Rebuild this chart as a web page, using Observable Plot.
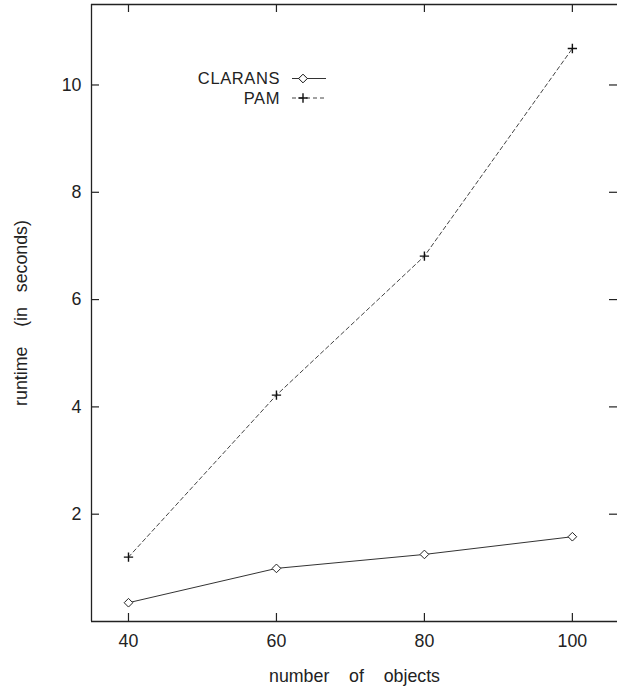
<!DOCTYPE html>
<html>
<head>
<meta charset="utf-8">
<script src="https://cdn.jsdelivr.net/npm/d3@7"></script>
<script src="https://cdn.jsdelivr.net/npm/@observablehq/plot@0.6"></script>
<style>
  html, body { margin: 0; padding: 0; background: #fff; overflow: hidden; }
  #wrap { position: relative; width: 617px; height: 689px; overflow: hidden; }
  #wrap text { white-space: pre; }
  #legend { position: absolute; left: 0; top: 0; pointer-events: none; }
</style>
</head>
<body>
<div id="wrap"></div>
<script>
// ---- data ----
const objects = [40, 60, 80, 100];
const claransRuntime = [0.35, 0.99, 1.25, 1.58];
const pamRuntime = [1.2, 4.22, 6.81, 10.68];
const seriesNames = ["CLARANS", "PAM"];
const xTicks = [40, 60, 80, 100];
const yTicks = [2, 4, 6, 8, 10];
const xDomain = [35, 106.1];
const yDomain = [0, 11.5];
const xLabel = "number    of    objects";
const yLabel = "runtime    (in   seconds)";

const clarans = objects.map((x, i) => ({x, y: claransRuntime[i], s: seriesNames[0]}));
const pam = objects.map((x, i) => ({x, y: pamRuntime[i], s: seriesNames[1]}));

const W = 617, H = 689, ML = 91, MR = 0, MT = 4, MB = 68;
const frameW = W - ML - MR, frameH = H - MT - MB;
const tickLen = 8;
const ink = "#222";
const font = "'Liberation Sans', Arial, Helvetica, sans-serif";

const chart = Plot.plot({
  width: W,
  height: H,
  marginLeft: ML,
  marginRight: MR,
  marginTop: MT,
  marginBottom: MB,
  style: {fontFamily: font, fontSize: "17.8px", color: ink, background: "#fff", overflow: "visible"},
  x: {domain: xDomain, ticks: xTicks},
  y: {domain: yDomain, ticks: yTicks},
  marks: [
    // open frame: left, bottom, top (right side lies beyond the picture)
    Plot.ruleX([xDomain[0]], {stroke: ink, strokeWidth: 1.3}),
    Plot.ruleY(yDomain, {stroke: ink, strokeWidth: 1.3}),
    // inward ticks
    Plot.ruleX(xTicks, {x: d => d, insetTop: frameH - tickLen, stroke: ink, strokeWidth: 1.2}),
    Plot.ruleX(xTicks, {x: d => d, insetBottom: frameH - tickLen, stroke: ink, strokeWidth: 1.2}),
    Plot.ruleY(yTicks, {y: d => d, insetRight: frameW - tickLen, stroke: ink, strokeWidth: 1.2}),
    Plot.ruleY(yTicks, {y: d => d, insetLeft: frameW - tickLen, stroke: ink, strokeWidth: 1.2}),
    Plot.axisX({ticks: xTicks, tickSize: 0, tickPadding: 13, label: null, fill: ink}),
    Plot.axisY({ticks: yTicks, tickSize: 0, tickPadding: 10, label: null, fill: ink}),
    // axis titles
    Plot.text([xLabel], {frameAnchor: "bottom", dy: 55, textAnchor: "middle", lineAnchor: "middle", fill: ink}),
    Plot.text([yLabel], {frameAnchor: "left", dx: -70, rotate: -90, textAnchor: "middle", lineAnchor: "middle", fill: ink}),
    // series
    Plot.line(clarans, {x: "x", y: "y", stroke: "#333", strokeWidth: 1}),
    Plot.dot(clarans, {x: "x", y: "y", symbol: "diamond2", r: 3.9, stroke: "#222", fill: "#fff", strokeWidth: 1}),
    Plot.line(pam, {x: "x", y: "y", stroke: "#444", strokeWidth: 1, strokeDasharray: "4,3"}),
    Plot.dot(pam, {x: "x", y: "y", symbol: "plus", r: 3.1, stroke: "#111", strokeWidth: 1.4})
  ]
});

const wrap = document.getElementById("wrap");
wrap.appendChild(chart);

// ---- legend (overlay) ----
const legend = d3.select(wrap).append("svg")
  .attr("id", "legend")
  .attr("width", 617).attr("height", 689)
  .style("font-family", font).style("font-size", "16.5px");

const rows = [
  {name: seriesNames[0], y: 78.5, dash: null, symbol: d3.symbolDiamond2, size: 3.9, stroke: "#333"},
  {name: seriesNames[1], y: 98, dash: "4,3", symbol: d3.symbolPlus, size: 3.1, stroke: "#444"}
];
rows.forEach(r => {
  legend.append("text")
    .attr("x", 280).attr("y", r.y).attr("dy", "0.36em")
    .attr("text-anchor", "end").attr("fill", ink)
    .style("letter-spacing", "0.6px").text(r.name);
  legend.append("line")
    .attr("x1", 292).attr("x2", 326).attr("y1", r.y).attr("y2", r.y)
    .attr("stroke", r.stroke).attr("stroke-width", 1)
    .attr("stroke-dasharray", r.dash);
  legend.append("path")
    .attr("transform", `translate(303,${r.y})`)
    .attr("d", d3.symbol(r.symbol, Math.PI * r.size * r.size)())
    .attr("fill", r.symbol === d3.symbolPlus ? "none" : "#fff")
    .attr("stroke", "#111").attr("stroke-width", r.symbol === d3.symbolPlus ? 1.4 : 1);
});
</script>
</body>
</html>
